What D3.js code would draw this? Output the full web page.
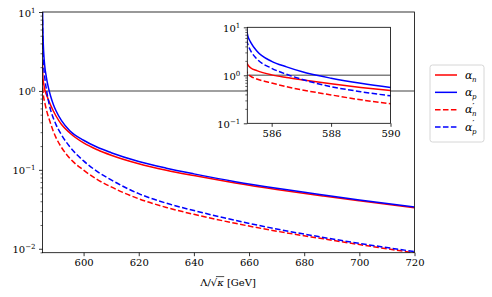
<!DOCTYPE html>
<html>
<head>
<meta charset="utf-8">
<script src="https://cdn.jsdelivr.net/npm/d3@7"></script>
<style>
  body { margin: 0; background: #fff; }
  text { font-family: "DejaVu Serif", serif; fill: #000; }
</style>
</head>
<body>
<svg id="chart" width="492" height="297"></svg>
<script>
// Lambda / sqrt(kappa) [GeV]
var lambda = [585.1, 585.2, 585.3, 585.5, 586, 586.5, 587, 588, 589, 590, 592, 595,
  600, 605, 610, 620, 630, 640, 655, 670, 687, 700, 720];
var alphaN = [2.3, 1.65, 1.42, 1.25, 1.02, 0.9, 0.81, 0.666, 0.56, 0.481, 0.375, 0.293,
  0.2196, 0.1795, 0.1531, 0.1194, 0.0988, 0.0845, 0.0682, 0.0564, 0.0466, 0.0406, 0.0331];
var alphaP = [14, 6.5, 4.8, 3.2, 1.95, 1.5, 1.2, 0.87, 0.68, 0.56, 0.42, 0.313,
  0.237, 0.193, 0.165, 0.1276, 0.105, 0.0889, 0.0708, 0.0583, 0.048, 0.0416, 0.0337];
var alphaNPrime = [1.4, 1.08, 0.95, 0.84, 0.69, 0.58, 0.5, 0.39, 0.309, 0.256, 0.192, 0.14,
  0.0991, 0.0752, 0.0607, 0.043, 0.0334, 0.0273, 0.021, 0.0167, 0.01335, 0.0113, 0.00887];
var alphaPPrime = [8, 4.4, 3.2, 2.2, 1.4, 1.05, 0.83, 0.58, 0.455, 0.374, 0.277, 0.196,
  0.1297, 0.0951, 0.0746, 0.0499, 0.0378, 0.0305, 0.0229, 0.0178, 0.0139, 0.0117, 0.0092];

var mainXTicks = [600, 620, 640, 660, 680, 700, 720];
var mainYExp = [-2, -1, 0, 1];
var insetXTicks = [586, 588, 590];
var insetYExp = [-1, 0, 1];
var refLevel = 1;

var series = [
  {values: alphaN, color: "red", dashed: false, sub: "n", prime: false},
  {values: alphaP, color: "blue", dashed: false, sub: "p", prime: false},
  {values: alphaNPrime, color: "red", dashed: true, sub: "n", prime: true},
  {values: alphaPPrime, color: "blue", dashed: true, sub: "p", prime: true}
];

var svg = d3.select("#chart");

function minorTicks(exps) {
  var out = [];
  for (var e = d3.min(exps) - 1; e <= d3.max(exps); e++) {
    for (var k = 2; k <= 9; k++) out.push(k * Math.pow(10, e));
  }
  return out;
}

function powLabel(sel) {
  sel.each(function (d) {
    var t = d3.select(this);
    var e = Math.round(Math.log10(d));
    t.text("10");
    t.append("tspan").attr("dy", "-0.55em").attr("font-size", "7px")
      .text(e < 0 ? "\u2212" + (-e) : e);
  });
}

function drawPanel(g, x, y, opts) {
  var w = x.range()[1] - x.range()[0];
  var h = y.range()[0] - y.range()[1];
  var x0 = x.range()[0], y0 = y.range()[1];

  g.append("rect").attr("x", x0).attr("y", y0).attr("width", w).attr("height", h)
    .attr("fill", "#fff");

  g.append("clipPath").attr("id", opts.clip).append("rect")
    .attr("x", x0).attr("y", y0).attr("width", w).attr("height", h);

  var plot = g.append("g").attr("clip-path", "url(#" + opts.clip + ")");

  plot.append("line")
    .attr("x1", x0).attr("x2", x0 + w)
    .attr("y1", y(refLevel)).attr("y2", y(refLevel))
    .attr("stroke", "#808080").attr("stroke-width", 1.5);

  var line = d3.line()
    .x(function (d) { return x(d[0]); })
    .y(function (d) { return y(d[1]); })
    .curve(d3.curveMonotoneX);

  series.forEach(function (s) {
    plot.append("path")
      .datum(lambda.map(function (l, i) { return [l, s.values[i]]; }))
      .attr("d", line)
      .attr("fill", "none")
      .attr("stroke", s.color)
      .attr("stroke-width", 1.5)
      .attr("stroke-dasharray", s.dashed ? "5.55,2.4" : null);
  });

  // x axis
  var xa = g.append("g").attr("transform", "translate(0," + (y0 + h) + ")")
    .call(d3.axisBottom(x).tickValues(opts.xTicks).tickFormat(d3.format("d"))
      .tickSize(3.5).tickSizeOuter(0).tickPadding(3));
  xa.select(".domain").remove();
  xa.selectAll("text").attr("font-size", "10px").attr("font-family", "DejaVu Serif");
  xa.selectAll("line").attr("stroke-width", 0.8);

  // y axis, majors
  var majors = opts.yExp.map(function (e) { return Math.pow(10, e); });
  var ya = g.append("g").attr("transform", "translate(" + x0 + ",0)")
    .call(d3.axisLeft(y).tickValues(majors).tickSize(3.5).tickSizeOuter(0).tickPadding(3.5));
  ya.select(".domain").remove();
  ya.selectAll("text").attr("font-size", "10px").attr("font-family", "DejaVu Serif")
    .attr("dy", "0.4em").call(powLabel);
  ya.selectAll("line").attr("stroke-width", 0.8);

  var yd = y.domain();
  var minors = minorTicks(opts.yExp).filter(function (v) { return v >= yd[0] && v <= yd[1]; });
  var ym = g.append("g").attr("transform", "translate(" + x0 + ",0)")
    .call(d3.axisLeft(y).tickValues(minors).tickSize(2).tickSizeOuter(0).tickFormat(""));
  ym.select(".domain").remove();
  ym.selectAll("line").attr("stroke-width", 0.6);

  g.append("rect").attr("x", x0).attr("y", y0).attr("width", w).attr("height", h)
    .attr("fill", "none").attr("stroke", "#000").attr("stroke-width", 0.8);
}

// main panel
var xMain = d3.scaleLinear().domain([585.1, 720]).range([42.5, 414.5]);
var yMain = d3.scaleLog().domain([Math.pow(10, -2.05), 10]).range([252.7, 12]);
drawPanel(svg.append("g"), xMain, yMain, {clip: "clipMain", xTicks: mainXTicks, yExp: mainYExp});

// inset panel
var xIn = d3.scaleLinear().domain([585.18, 590]).range([247.3, 390.5]);
var yIn = d3.scaleLog().domain([0.1, 10]).range([123.3, 27.3]);
drawPanel(svg.append("g"), xIn, yIn, {clip: "clipInset", xTicks: insetXTicks, yExp: insetYExp});

// x label
var xl = svg.append("text").attr("x", 228).attr("y", 286).attr("text-anchor", "middle")
  .attr("font-size", "10px");
xl.append("tspan").text("\u039b/\u221a");
xl.append("tspan").attr("font-style", "italic").text("\u03ba");
xl.append("tspan").text(" [GeV]");
var xlNode = xl.node();
var kEnd = xlNode.getEndPositionOfChar(3);
var rEnd = xlNode.getEndPositionOfChar(2);
svg.append("line").attr("x1", rEnd.x - 1.2).attr("x2", kEnd.x + 0.5)
  .attr("y1", 276.6).attr("y2", 276.6).attr("stroke", "#000").attr("stroke-width", 0.7);

// legend
var legend = svg.append("g");
legend.append("rect").attr("x", 430).attr("y", 65).attr("width", 54).attr("height", 77)
  .attr("rx", 2.5).attr("fill", "#fff").attr("fill-opacity", 0.8)
  .attr("stroke", "#cccccc").attr("stroke-width", 0.8);
var rows = d3.scaleLinear().domain([0, 3]).range([75, 127]);
series.forEach(function (s, i) {
  var ry = rows(i);
  legend.append("line").attr("x1", 435).attr("x2", 457).attr("y1", ry).attr("y2", ry)
    .attr("stroke", s.color).attr("stroke-width", 1.5)
    .attr("stroke-dasharray", s.dashed ? "5.55,2.4" : null);
  legend.append("text").attr("x", 465).attr("y", ry + 3.5)
    .attr("font-size", "11px").attr("font-style", "italic").text("\u03b1");
  if (s.prime) {
    legend.append("text").attr("x", 472.5).attr("y", ry - 1.8)
      .attr("font-size", "7px").attr("font-weight", "bold").text("\u2032");
  }
  legend.append("text").attr("x", 472).attr("y", ry + 6.8)
    .attr("font-size", "7px").attr("font-style", "italic").text(s.sub);
});
</script>
</body>
</html>
